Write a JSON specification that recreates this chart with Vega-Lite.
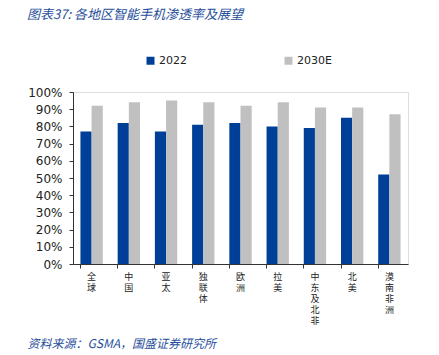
{
  "$schema": "https://vega.github.io/schema/vega-lite/v6.json",
  "autosize": {"type": "none"},
  "width": 335,
  "height": 172,
  "padding": {"left": 73, "top": 92, "right": 31, "bottom": 91},
  "background": "white",
  "title": {
    "text": "图表37:  各地区智能手机渗透率及展望",
    "anchor": "start",
    "frame": "group",
    "dx": -46,
    "offset": 33,
    "font": "Noto Sans CJK SC",
    "fontSize": 13,
    "fontStyle": "italic",
    "fontWeight": "normal",
    "color": "#1F4E9A"
  },
  "data": {
    "values": [
      {"region": "全球", "series": "2022", "value": 77},
      {"region": "全球", "series": "2030E", "value": 92},
      {"region": "中国", "series": "2022", "value": 82},
      {"region": "中国", "series": "2030E", "value": 94},
      {"region": "亚太", "series": "2022", "value": 77},
      {"region": "亚太", "series": "2030E", "value": 95},
      {"region": "独联体", "series": "2022", "value": 81},
      {"region": "独联体", "series": "2030E", "value": 94},
      {"region": "欧洲", "series": "2022", "value": 82},
      {"region": "欧洲", "series": "2030E", "value": 92},
      {"region": "拉美", "series": "2022", "value": 80},
      {"region": "拉美", "series": "2030E", "value": 94},
      {"region": "中东及北非", "series": "2022", "value": 79},
      {"region": "中东及北非", "series": "2030E", "value": 91},
      {"region": "北美", "series": "2022", "value": 85},
      {"region": "北美", "series": "2030E", "value": 91},
      {"region": "漠南非洲", "series": "2022", "value": 52},
      {"region": "漠南非洲", "series": "2030E", "value": 87}
    ]
  },
  "mark": {"type": "bar"},
  "encoding": {
    "x": {
      "field": "region",
      "type": "nominal",
      "sort": null,
      "scale": {"paddingInner": 0.4, "paddingOuter": 0.2},
      "axis": {
        "title": "资料来源：GSMA，国盛证券研究所",
        "titleFont": "Noto Sans CJK SC",
        "titleFontSize": 12,
        "titleFontStyle": "italic",
        "titleFontWeight": "normal",
        "titleColor": "#1F4E9A",
        "titleAlign": "left",
        "titleBaseline": "middle",
        "titleX": -46,
        "titleY": 79,
        "labelAngle": 0,
        "labelExpr": "split(datum.label, '')",
        "labelFont": "Noto Sans CJK SC",
        "labelFontSize": 9,
        "labelLineHeight": 11,
        "labelColor": "#222222",
        "labelPadding": 4,
        "labelOverlap": false,
        "bandPosition": 0,
        "ticks": true,
        "tickSize": 4,
        "tickColor": "#333333",
        "domainColor": "#333333",
        "grid": false
      }
    },
    "xOffset": {"field": "series", "type": "nominal", "scale": {"paddingInner": 0}},
    "y": {
      "field": "value",
      "type": "quantitative",
      "scale": {"domain": [0, 100]},
      "axis": {
        "title": null,
        "values": [0, 10, 20, 30, 40, 50, 60, 70, 80, 90, 100],
        "labelExpr": "datum.value + '%'",
        "labelFont": "DejaVu Sans",
        "labelFontSize": 12,
        "labelColor": "#222222",
        "labelPadding": 7,
        "tickSize": 4,
        "tickColor": "#333333",
        "domainColor": "#333333",
        "grid": false
      }
    },
    "color": {
      "field": "series",
      "type": "nominal",
      "scale": {"domain": ["2022", "2030E"], "range": ["#003F98", "#C0C0C0"]},
      "legend": {
        "title": null,
        "orient": "none",
        "legendX": 72,
        "legendY": -37,
        "direction": "horizontal",
        "symbolType": "square",
        "symbolSize": 64,
        "symbolStrokeWidth": 0,
        "labelFont": "DejaVu Sans",
        "labelFontSize": 11,
        "labelColor": "#222222",
        "labelOffset": 3,
        "columnPadding": 96
      }
    }
  }
}
